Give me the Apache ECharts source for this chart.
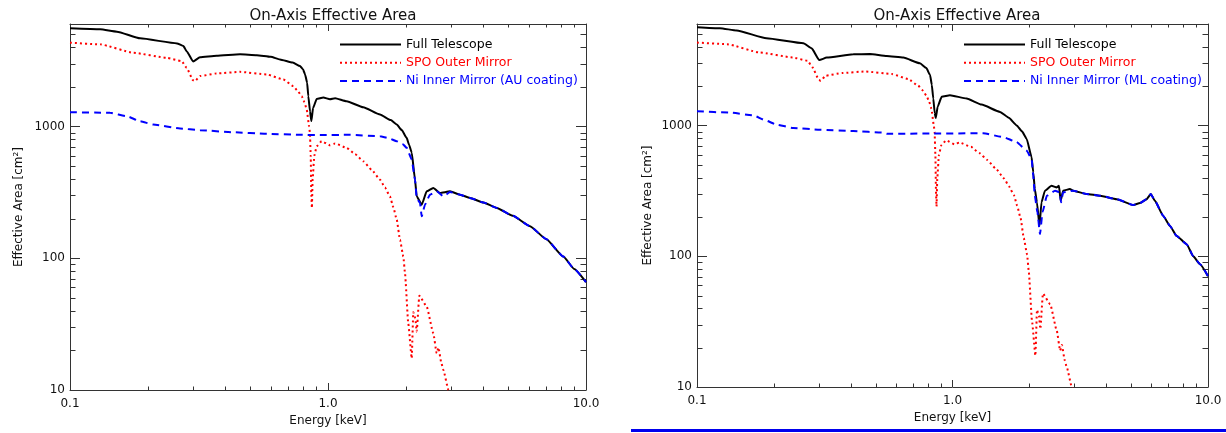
<!DOCTYPE html>
<html><head><meta charset="utf-8">
<script src="https://cdn.jsdelivr.net/npm/echarts@6/dist/echarts.min.js"></script>
<style>html,body{margin:0;padding:0;background:#fff}#c{width:1226px;height:433px}</style>
</head><body><div id="c"></div>
<script>
// ---- text ----
const titleText = 'On-Axis Effective Area';
const xName = 'Energy [keV]';
const yName = 'Effective Area [cm²]';
const nameFull = 'Full Telescope';
const nameSPO = 'SPO Outer Mirror';
const nameNiAU = 'Ni Inner Mirror (AU coating)';
const nameNiML = 'Ni Inner Mirror (ML coating)';

// ---- ticks ----
const xMajorTicks = [0.1, 1, 10];
const xTickLabels = ['0.1', '1.0', '10.0'];
const yMajorTicks = [10, 100, 1000];
const yTickLabels = ['10', '100', '1000'];
const xMinorTicks = [0.2,0.3,0.4,0.5,0.6,0.7,0.8,0.9,2,3,4,5,6,7,8,9];
const yMinorTicks = [20,30,40,50,60,70,80,90,200,300,400,500,600,700,800,900,2000,3000,4000,5000];

// ---- data [energy keV, effective area cm2] ----
const fullTelescopeAU = [[0.1,5560],[0.131,5464],[0.152,5248],[0.187,4667],[0.26,4276],[0.275,4079],[0.284,3700],[0.300,3119],[0.319,3350],[0.37,3440],[0.456,3530],[0.53,3480],[0.6,3380],[0.651,3232],[0.73,3060],[0.779,2875],[0.80,2720],[0.815,2485],[0.83,2150],[0.839,1700],[0.852,1300],[0.862,1100],[0.875,1380],[0.904,1620],[0.959,1660],[1.018,1613],[1.065,1641],[1.181,1556],[1.37,1400],[1.591,1233],[1.75,1120],[1.847,1036],[1.931,940],[2.018,820],[2.06,730],[2.111,634],[2.174,395],[2.207,295],[2.308,255],[2.413,322],[2.559,342],[2.717,313],[2.971,322],[3.248,304],[3.55,287],[4.0,265],[4.51,241],[5.2,210],[6.07,175],[7.0,140],[8.17,103],[9.0,83],[10,66]];
const spoOuter = [[0.1,4330],[0.131,4204],[0.176,3631],[0.237,3326],[0.271,3139],[0.283,2794],[0.3,2240],[0.305,2208],[0.319,2413],[0.37,2529],[0.456,2600],[0.579,2485],[0.671,2275],[0.734,2026],[0.76,1880],[0.791,1700],[0.81,1530],[0.827,1346],[0.845,1000],[0.851,895],[0.857,600],[0.862,300],[0.866,241],[0.872,400],[0.885,600],[0.904,708],[0.945,773],[1.018,721],[1.065,743],[1.181,689],[1.273,618],[1.37,545],[1.477,469],[1.591,395],[1.663,344],[1.738,295],[1.791,244],[1.847,196],[1.901,138],[1.959,103],[1.988,77],[2.047,32],[2.111,17.4],[2.141,39],[2.18,35],[2.207,27.8],[2.259,51.9],[2.413,43],[2.559,27],[2.638,19],[2.68,21],[2.75,16],[2.80,14.2],[2.93,10],[2.96,9.5]];
const niInnerAU = [[0.1,1284],[0.143,1271],[0.166,1197],[0.187,1097],[0.21,1036],[0.267,966],[0.319,938],[0.428,905],[0.579,880],[0.779,865],[0.931,862],[1.217,865],[1.591,844],[1.72,815],[1.847,773],[1.95,735],[2.018,689],[2.111,561],[2.174,395],[2.207,287],[2.273,263],[2.308,208],[2.376,255],[2.485,304],[2.638,322],[2.80,295],[2.971,318],[3.248,304],[3.55,287],[4.0,265],[4.51,241],[5.2,210],[6.07,175],[7.0,140],[8.17,103],[9.0,83],[10,66]];
const fullTelescopeML = [[0.1,5675],[0.123,5570],[0.143,5346],[0.187,4667],[0.261,4272],[0.281,3909],[0.301,3178],[0.322,3318],[0.409,3518],[0.475,3535],[0.553,3409],[0.642,3318],[0.746,2999],[0.79,2760],[0.817,2438],[0.83,2050],[0.841,1613],[0.852,1250],[0.860,1145],[0.875,1400],[0.907,1663],[0.977,1710],[1.136,1613],[1.3,1450],[1.535,1274],[1.66,1150],[1.784,1005],[1.87,905],[1.95,795],[2.04,574],[2.07,440],[2.10,327],[2.14,259],[2.19,171],[2.23,259],[2.30,318],[2.44,347],[2.56,337],[2.61,347],[2.65,266],[2.71,318],[2.88,327],[2.97,318],[3.35,300],[3.78,291],[4.39,274],[5.10,247],[5.42,256],[5.75,274],[5.97,300],[6.20,266],[6.68,204],[7.10,171],[7.54,143],[8.25,124],[8.76,100],[9.31,87],[10,70.5]];
const niInnerML = [[0.1,1288],[0.135,1259],[0.166,1200],[0.185,1100],[0.205,1018],[0.238,960],[0.303,931],[0.409,910],[0.536,885],[0.553,868],[0.841,870],[1.32,875],[1.58,818],[1.78,750],[1.95,646],[2.04,557],[2.07,415],[2.10,291],[2.15,217],[2.20,148],[2.25,217],[2.34,291],[2.52,318],[2.63,309],[2.66,259],[2.71,309],[2.97,318],[3.35,300],[3.78,291],[4.39,274],[5.10,247],[5.42,256],[5.75,274],[5.97,300],[6.20,266],[6.68,204],[7.10,171],[7.54,143],[8.25,124],[8.76,100],[9.31,87],[10,70.5]];

// ---- style ----
const FONT = 'DejaVu Sans';
const axisColor = '#333';
const textColor = '#111';
const cBlack = '#000000', cRed = '#ff0000', cBlue = '#0000ff';
const X_MIN = 0.1, X_MAX = 10, Y_MIN = 10, Y_MAX = 6000;

function fmt(ticks, labels) {
  return v => {
    const i = ticks.findIndex(t => Math.abs(Math.log10(t) - Math.log10(v)) < 1e-6);
    return i >= 0 ? labels[i] : '';
  };
}
function xAxes(gi) {
  const base = {type:'log', logBase:10, gridIndex:gi, min:X_MIN, max:X_MAX,
    splitLine:{show:false}, minorTick:{show:false},
    axisLine:{show:true, lineStyle:{color:axisColor, width:1}},
    axisTick:{show:true, inside:true, length:7, lineStyle:{color:axisColor, width:1}}};
  return [
    Object.assign({}, base, {position:'bottom', name:xName, nameLocation:'middle', nameGap:22,
      nameTextStyle:{fontFamily:FONT, fontSize:12, color:textColor},
      axisLabel:{formatter:fmt(xMajorTicks, xTickLabels), fontFamily:FONT, fontSize:12, color:textColor, margin:8}}),
    Object.assign({}, base, {position:'top', axisLabel:{show:false}})
  ];
}
function yAxes(gi, gap) {
  const base = {type:'log', logBase:10, gridIndex:gi, min:Y_MIN, max:Y_MAX,
    splitLine:{show:false}, minorTick:{show:false},
    axisLine:{show:true, lineStyle:{color:axisColor, width:1}},
    axisTick:{show:true, inside:true, length:10, lineStyle:{color:axisColor, width:1}}};
  return [
    Object.assign({}, base, {position:'left', name:yName, nameLocation:'middle', nameGap:gap,
      nameTextStyle:{fontFamily:FONT, fontSize:12, color:textColor},
      axisLabel:{formatter:fmt(yMajorTicks, yTickLabels), fontFamily:FONT, fontSize:12, color:textColor, margin:5, showMaxLabel:false}}),
    Object.assign({}, base, {position:'right', axisLabel:{show:false}})
  ];
}
function minorX(xi, yi) {
  return {type:'custom', xAxisIndex:xi, yAxisIndex:yi, silent:true, z:1,
    data: xMinorTicks.map(v => [v, 100]),
    renderItem(params, api) {
      const cs = params.coordSys;
      const x = Math.round(api.coord([api.value(0), 100])[0]) + 0.5;
      const yb = cs.y + cs.height, yt = cs.y;
      const st = {stroke:axisColor, lineWidth:1};
      return {type:'group', children:[
        {type:'line', shape:{x1:x, y1:yb, x2:x, y2:yb-3.5}, style:st},
        {type:'line', shape:{x1:x, y1:yt, x2:x, y2:yt+3.5}, style:st}]};
    }};
}
function minorY(xi, yi) {
  return {type:'custom', xAxisIndex:xi, yAxisIndex:yi, silent:true, z:1,
    data: yMinorTicks.map(v => [1, v]),
    renderItem(params, api) {
      const cs = params.coordSys;
      const y = Math.round(api.coord([1, api.value(1)])[1]) + 0.5;
      const xl = cs.x, xr = cs.x + cs.width;
      const st = {stroke:axisColor, lineWidth:1};
      return {type:'group', children:[
        {type:'line', shape:{x1:xl, y1:y, x2:xl+5.5, y2:y}, style:st},
        {type:'line', shape:{x1:xr, y1:y, x2:xr-5.5, y2:y}, style:st}]};
    }};
}
function line(name, data, xi, yi, color, type) {
  return {type:'line', name, data, xAxisIndex:xi, yAxisIndex:yi, symbol:'none', showSymbol:false,
    smooth:0.15, smoothMonotone:'x',
    clip:true, lineStyle:{color, width:2, type}, itemStyle:{color}, z:3};
}
function legend(left, niName) {
  return {left, top:38, orient:'vertical', padding:0, itemWidth:61, itemHeight:12, itemGap:5.3,
    itemStyle:{opacity:0, borderWidth:0},
    textStyle:{fontFamily:FONT, fontSize:12.5},
    data:[{name:nameFull, textStyle:{color:cBlack}},
          {name:nameSPO, textStyle:{color:cRed}},
          {name:niName, textStyle:{color:cBlue}}]};
}

const chart = echarts.init(document.getElementById('c'), null, {renderer:'canvas'});
chart.setOption({
  animation:false,
  backgroundColor:'#ffffff',
  title:[
    {text:titleText, left:328, top:4, textAlign:'center', textStyle:{fontFamily:FONT, fontSize:15, fontWeight:'normal', color:textColor}},
    {text:titleText, left:952, top:4, textAlign:'center', textStyle:{fontFamily:FONT, fontSize:15, fontWeight:'normal', color:textColor}}
  ],
  legend:[legend(339, nameNiAU), legend(963, nameNiML)],
  grid:[
    {left:70, top:24, width:516, height:366, containLabel:false},
    {left:697, top:24, width:511, height:363, containLabel:false}
  ],
  xAxis:[...xAxes(0), ...xAxes(1)],
  yAxis:[...yAxes(0, 45), ...yAxes(1, 43)],
  graphic:[{type:'rect', shape:{x:631, y:429, width:595, height:3}, style:{fill:'#0000ee'}, silent:true}],
  series:[
    line(nameFull, fullTelescopeAU, 0, 0, cBlack, 'solid'),
    line(nameSPO, spoOuter, 0, 0, cRed, [2, 3]),
    line(nameNiAU, niInnerAU, 0, 0, cBlue, [7, 5]),
    minorX(0, 0), minorY(0, 0),
    line(nameFull, fullTelescopeML, 2, 2, cBlack, 'solid'),
    line(nameSPO, spoOuter, 2, 2, cRed, [2, 3]),
    line(nameNiML, niInnerML, 2, 2, cBlue, [7, 5]),
    minorX(2, 2), minorY(2, 2)
  ]
});
</script>
</body></html>
